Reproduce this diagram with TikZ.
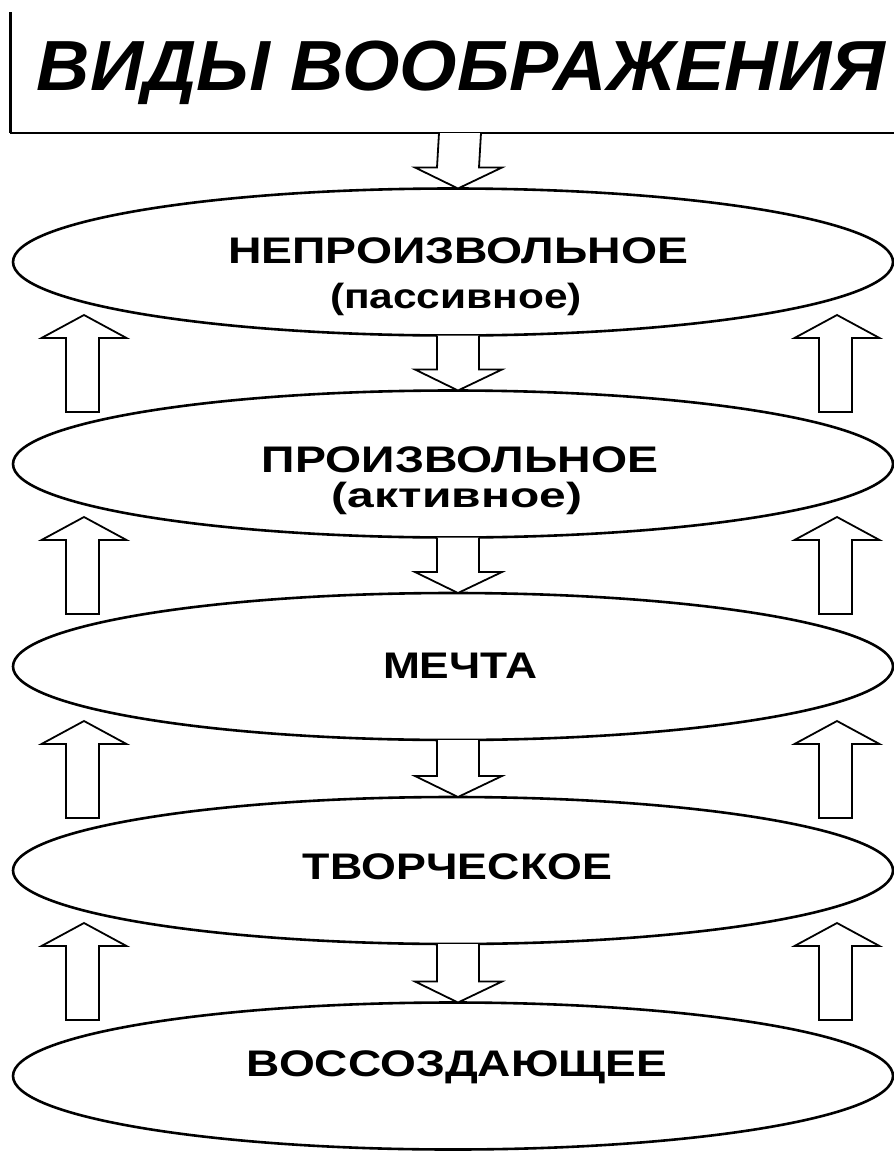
\documentclass[tikz,border=0pt]{standalone}
\usepackage{fontspec}
\usepackage{graphicx}
\newfontfamily\lsans{Liberation Sans}
\usetikzlibrary{shapes.geometric,calc}
\newcommand\fitw[3]{\resizebox{#1pt}{\height}{\lsans\bfseries\fontsize{#2}{#2}\selectfont #3}}
\newcommand\uparr[2]{%
  \draw[blockarrow] (#1,#2) -- (#1+42.5,#2+23) -- (#1+15,#2+23) -- (#1+15,#2+97)
    -- (#1-18,#2+97) -- (#1-18,#2+23) -- (#1-42.5,#2+23) -- cycle;}
\newcommand\dnarr[2]{%
  \draw[blockarrow] ([xshift=-16pt]#1.south) -- ([xshift=-16pt,yshift=21pt]#2.north)
    -- ([xshift=-38pt,yshift=21pt]#2.north) -- ([xshift=5pt]#2.north)
    -- ([xshift=49pt,yshift=21pt]#2.north) -- ([xshift=26pt,yshift=21pt]#2.north)
    -- ([xshift=26pt]#1.south);}
\begin{document}
\begin{tikzpicture}[x=1pt,y=-1pt,
  oval/.style={draw=black,ellipse,line width=2.6pt,minimum width=880pt,minimum height=147pt,inner sep=0pt,outer sep=0pt},
  blockarrow/.style={draw=black,fill=white,line width=1.8pt,line join=miter},
  lbl/.style={inner sep=0pt,anchor=base}]
\useasboundingbox[fill=white] (0,0) rectangle (894,1170);
% title box
\node[minimum width=890pt,minimum height=121pt,inner sep=0pt,outer sep=0pt] (title) at (455,72.5) {};
\draw[line width=3pt] (title.north west) -- (title.south west);
\draw[line width=2.6pt] (title.south west) -- (title.south east);
\node[lbl] (tt) at (461,90) {\resizebox{848pt}{\height}{\lsans\bfseries\itshape\fontsize{71}{71}\selectfont ВИДЫ ВООБРАЖЕНИЯ}};
% ellipses
\node[oval] (e1) at (453,262) {};
\node[oval] (e2) at (453,464) {};
\node[oval] (e3) at (453,666.5) {};
\node[oval] (e4) at (453,870.5) {};
\node[oval] (e5) at (453,1076) {};
% labels
\node[lbl] (t1a) at (458,263) {\fitw{460}{37}{НЕПРОИЗВОЛЬНОЕ}};
\node[lbl] (t1b) at (456,308) {\fitw{252}{35}{(пассивное)}};
\node[lbl] (t2a) at (460,472) {\fitw{396}{37}{ПРОИЗВОЛЬНОЕ}};
\node[lbl] (t2b) at (457,507) {\fitw{250}{35}{(активное)}};
\node[lbl] (t3) at (460,678) {\fitw{154}{37}{МЕЧТА}};
\node[lbl] (t4) at (457.5,879) {\fitw{309}{37}{ТВОРЧЕСКОЕ}};
\node[lbl] (t5) at (457,1076) {\fitw{420}{37}{ВОССОЗДАЮЩЕЕ}};
% down arrows
\dnarr{title}{e1}
\dnarr{e1}{e2}
\dnarr{e2}{e3}
\dnarr{e3}{e4}
\dnarr{e4}{e5}
% up arrows
\foreach \ty in {315,517,721,923}{
  \uparr{84}{\ty}
  \uparr{837}{\ty}
}
\end{tikzpicture}
\end{document}
